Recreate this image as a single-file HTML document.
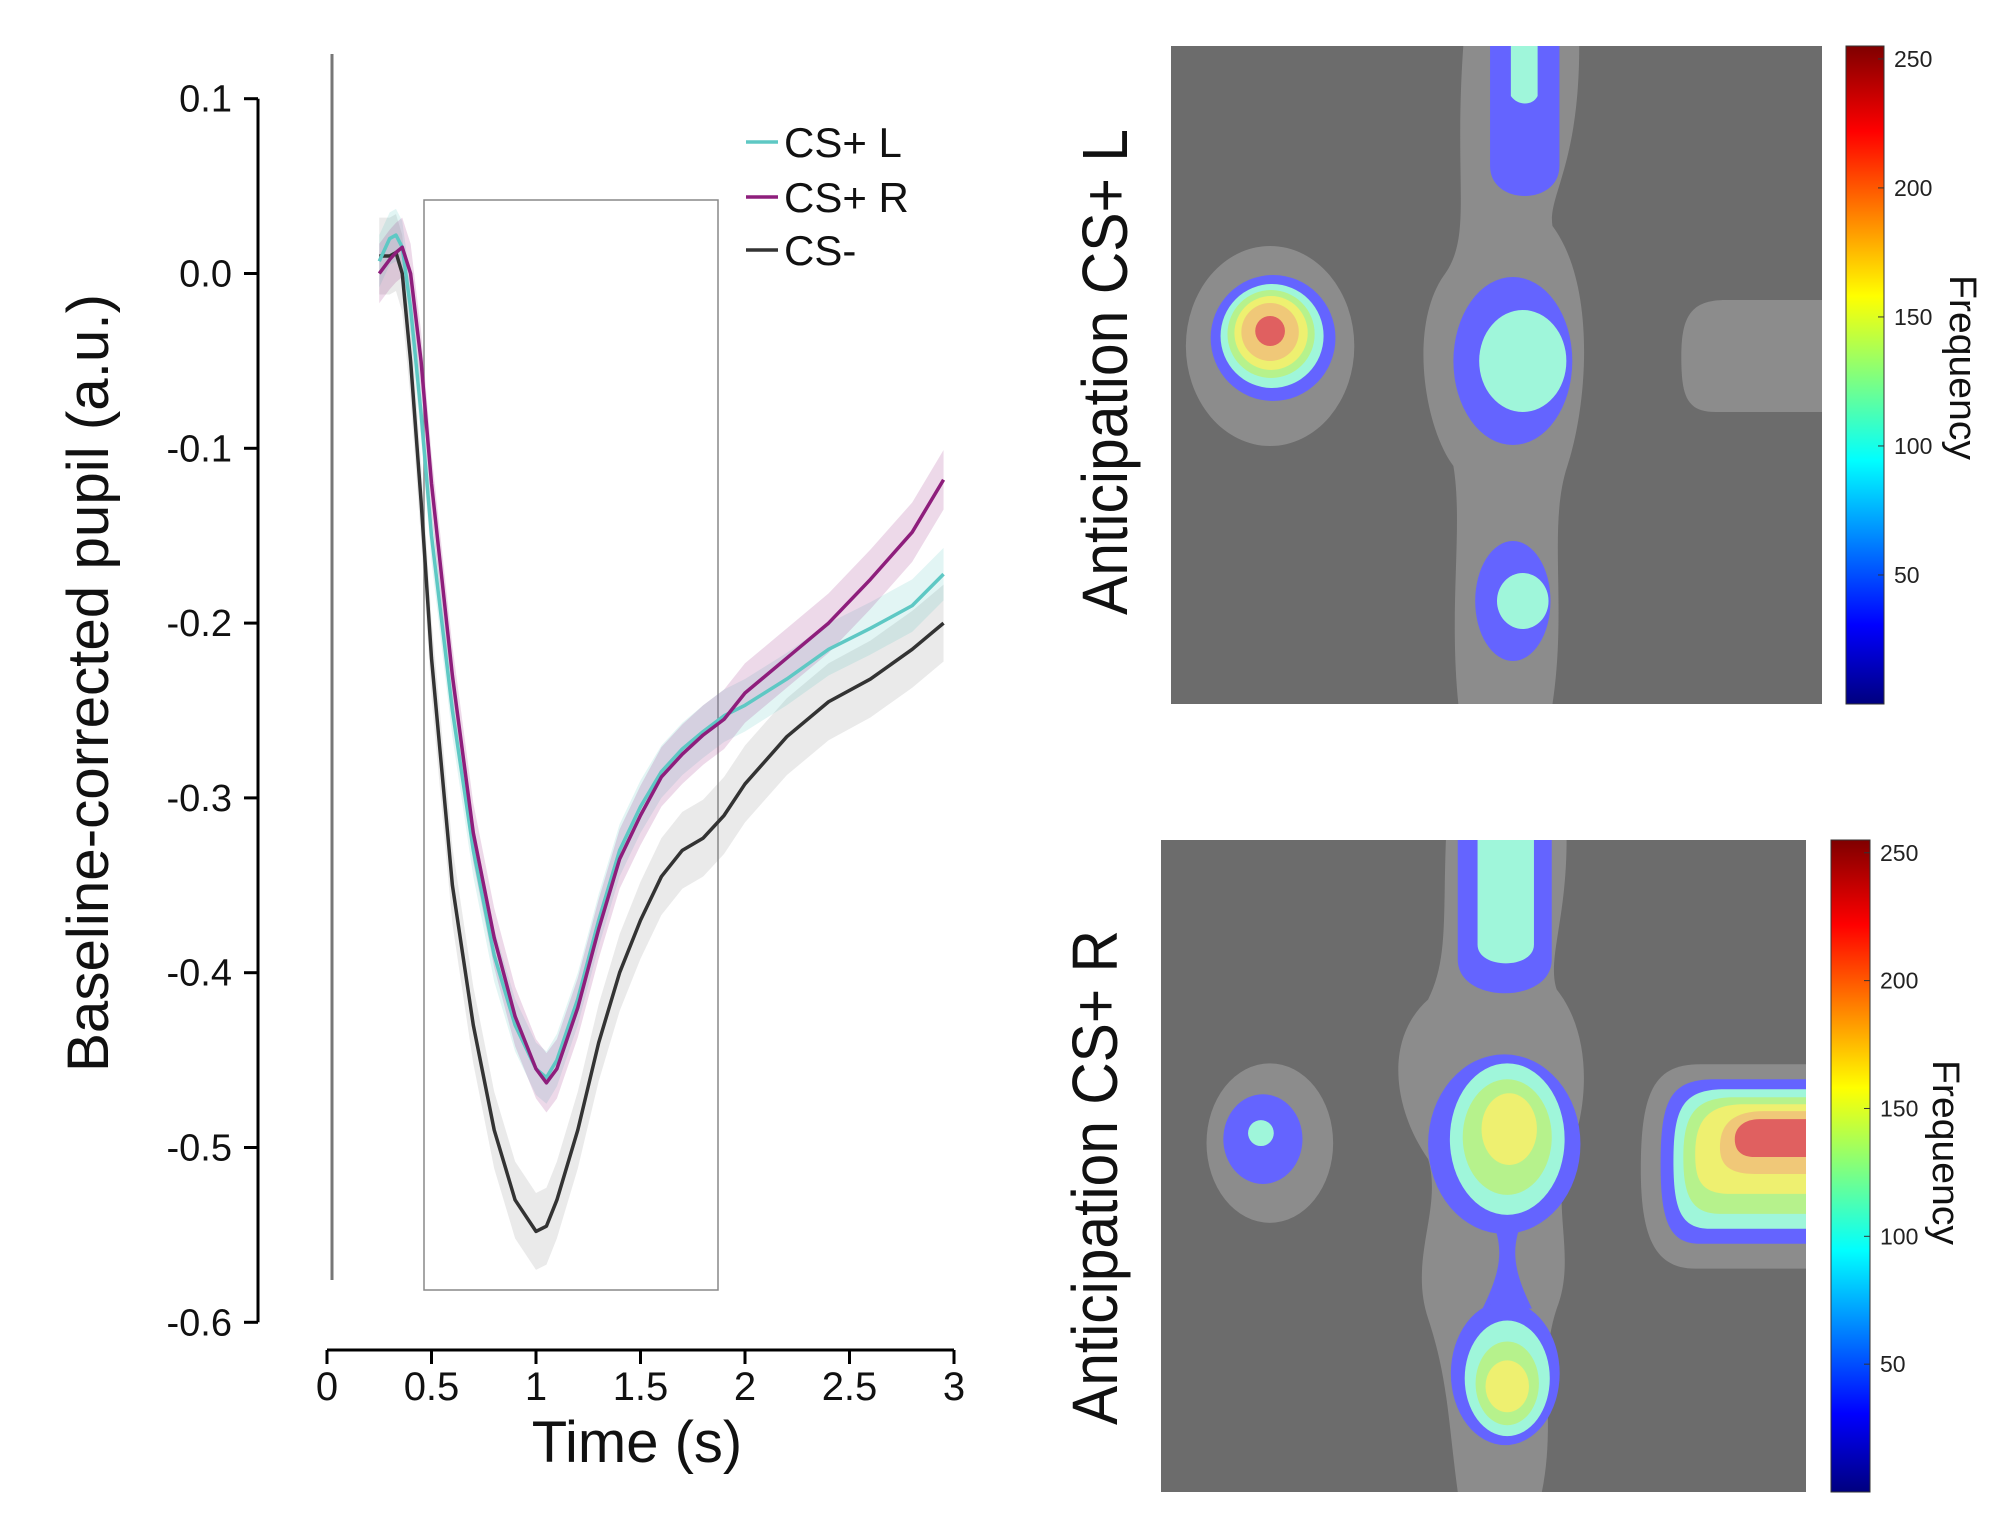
<!DOCTYPE html>
<html><head><meta charset="utf-8"><style>
body{margin:0;background:#fff}
svg{display:block;font-family:"Liberation Sans",sans-serif}
</style></head><body>
<svg id="fig" width="1994" height="1514" viewBox="0 0 1994 1514">
<defs>
<linearGradient id="jet" x1="0" y1="1" x2="0" y2="0">
<stop offset="0" stop-color="#00007f"/><stop offset="0.12" stop-color="#0000ff"/><stop offset="0.37" stop-color="#00ffff"/><stop offset="0.62" stop-color="#ffff00"/><stop offset="0.87" stop-color="#ff0000"/><stop offset="1" stop-color="#7f0000"/>
</linearGradient>
</defs>
<g id="chart"></g>

<g>
<svg x="1171" y="46" width="651" height="658" viewBox="0 0 657 658" preserveAspectRatio="none">
<rect width="657" height="658" fill="#6c6c6c"/>
<path d="M295 0 H412 C412 120 380 150 385 180 C430 240 420 360 400 420 C380 480 400 560 385 658 H290 C280 560 295 480 285 420 C255 380 240 280 275 230 C305 190 285 140 295 0Z" fill="#8c8c8c"/>
<ellipse cx="100" cy="300" rx="85" ry="100" fill="#8c8c8c"/>
<ellipse cx="103" cy="292" rx="63" ry="63" fill="#6464ff"/>
<ellipse cx="102" cy="290" rx="52" ry="52" fill="#9ff6da"/>
<ellipse cx="101" cy="288" rx="44" ry="44" fill="#b6f28c"/>
<ellipse cx="101" cy="287" rx="37" ry="37" fill="#eef070"/>
<ellipse cx="100" cy="286" rx="29" ry="29" fill="#f0c878"/>
<ellipse cx="100" cy="285" rx="15" ry="15" fill="#e06060"/>
<ellipse cx="345" cy="315" rx="60" ry="84" fill="#6464ff"/>
<ellipse cx="355" cy="315" rx="44" ry="51" fill="#9ff6da"/>
<path d="M322 0 H392 V120 C392 160 322 160 322 120Z" fill="#6464ff"/>
<path d="M343 0 H370 V50 C365 60 350 60 343 50Z" fill="#9ff6da"/>
<ellipse cx="345" cy="555" rx="38" ry="60" fill="#6464ff"/>
<ellipse cx="355" cy="555" rx="26" ry="28" fill="#9ff6da"/>
<path d="M657 254 V366 H550 C520 366 515 350 515 310 C515 270 525 254 560 254Z" fill="#8c8c8c"/>
</svg>
</g>
<rect x="1846" y="46" width="38" height="658" fill="url(#jet)" stroke="#333" stroke-width="1"/>
<g id="cb1"></g>
<text transform="translate(1950,275) rotate(90)" font-size="38" textLength="185" lengthAdjust="spacingAndGlyphs" fill="#111">Frequency</text>
<text transform="translate(1127,615) rotate(-90)" font-size="64" textLength="486" lengthAdjust="spacingAndGlyphs" fill="#111">Anticipation CS+ L</text>

<g>
<svg x="1161" y="840" width="645" height="652" viewBox="0 0 652 654" preserveAspectRatio="none">
<rect width="652" height="654" fill="#6c6c6c"/>
<path d="M288 0 H410 C410 80 390 120 400 150 C440 200 430 280 410 320 C395 370 420 420 400 470 C380 530 400 580 385 654 H300 C290 580 290 540 270 480 C250 420 285 370 270 320 C235 270 225 200 270 160 C290 120 285 80 288 0Z" fill="#8c8c8c"/>
<ellipse cx="110" cy="304" rx="64" ry="80" fill="#8c8c8c"/>
<ellipse cx="103" cy="300" rx="40" ry="45" fill="#6464ff"/>
<ellipse cx="101" cy="294" rx="13" ry="13" fill="#9ff6da"/>
<path d="M300 0 H395 V120 C395 165 300 165 300 120Z" fill="#6464ff"/>
<path d="M320 0 H377 V105 C377 130 320 130 320 105Z" fill="#9ff6da"/>
<path d="M325 360 C345 400 350 420 325 470 H375 C350 420 355 400 375 360Z" fill="#6464ff"/>
<ellipse cx="347" cy="305" rx="77" ry="90" fill="#6464ff"/>
<ellipse cx="350" cy="300" rx="58" ry="76" fill="#9ff6da"/>
<ellipse cx="350" cy="298" rx="45" ry="58" fill="#b6f28c"/>
<ellipse cx="352" cy="290" rx="28" ry="36" fill="#eef070"/>
<ellipse cx="348" cy="535" rx="55" ry="72" fill="#6464ff"/>
<ellipse cx="350" cy="540" rx="43" ry="58" fill="#9ff6da"/>
<ellipse cx="350" cy="545" rx="32" ry="42" fill="#b6f28c"/>
<ellipse cx="350" cy="548" rx="22" ry="26" fill="#eef070"/>
<path d="M652 225 V430 H540 C500 430 485 400 485 330 C485 250 500 225 545 225Z" fill="#8c8c8c"/>
<path d="M652 240 V405 H545 C515 405 505 385 505 325 C505 260 515 240 560 240Z" fill="#6464ff"/>
<path d="M652 250 V390 H555 C525 390 518 370 518 322 C518 268 528 250 570 250Z" fill="#9ff6da"/>
<path d="M652 258 V375 H565 C535 375 528 355 528 318 C528 275 540 258 580 258Z" fill="#b6f28c"/>
<path d="M652 265 V355 H575 C545 355 540 340 540 315 C540 282 552 265 590 265Z" fill="#eef070"/>
<path d="M652 272 V335 H600 C570 335 565 322 565 308 C565 285 578 272 610 272Z" fill="#f0c878"/>
<path d="M652 280 V318 H600 C585 318 580 310 580 300 C580 288 590 280 605 280Z" fill="#e06060"/>
</svg>
</g>
<rect x="1831" y="840" width="39" height="652" fill="url(#jet)" stroke="#333" stroke-width="1"/>
<g id="cb2"></g>
<text transform="translate(1933,1060) rotate(90)" font-size="38" textLength="185" lengthAdjust="spacingAndGlyphs" fill="#111">Frequency</text>
<text transform="translate(1117,1425) rotate(-90)" font-size="64" textLength="495" lengthAdjust="spacingAndGlyphs" fill="#111">Anticipation CS+ R</text>
</svg>
<script>
const times=[0.25,0.3,0.33,0.36,0.4,0.45,0.5,0.6,0.7,0.8,0.9,1.0,1.05,1.1,1.2,1.3,1.4,1.5,1.6,1.7,1.8,1.9,2.0,2.2,2.4,2.6,2.8,2.95];
const csL=[0.007,0.02,0.022,0.015,-0.02,-0.08,-0.15,-0.25,-0.33,-0.39,-0.43,-0.455,-0.46,-0.45,-0.415,-0.37,-0.33,-0.305,-0.285,-0.272,-0.262,-0.253,-0.247,-0.232,-0.215,-0.203,-0.19,-0.172];
const csR=[0.0,0.008,0.012,0.015,0.0,-0.05,-0.12,-0.23,-0.32,-0.38,-0.425,-0.455,-0.463,-0.455,-0.42,-0.375,-0.335,-0.31,-0.288,-0.275,-0.264,-0.255,-0.24,-0.22,-0.2,-0.175,-0.148,-0.118];
const csM=[0.01,0.01,0.012,0.0,-0.05,-0.13,-0.22,-0.35,-0.43,-0.49,-0.53,-0.548,-0.545,-0.53,-0.49,-0.44,-0.4,-0.37,-0.345,-0.33,-0.323,-0.31,-0.292,-0.265,-0.245,-0.232,-0.215,-0.2];
const errL=0.015, errR=0.017, errM=0.022;
const yTicks=[0.1,0.0,-0.1,-0.2,-0.3,-0.4,-0.5,-0.6];
const yTickLabels=["0.1","0.0","-0.1","-0.2","-0.3","-0.4","-0.5","-0.6"];
const xTicks=[0,0.5,1,1.5,2,2.5,3];
const xTickLabels=["0","0.5","1","1.5","2","2.5","3"];
const cbTicks=[250,200,150,100,50];
const NS="http://www.w3.org/2000/svg";
function X(t){return 327+t*209;}
function Y(v){return 273.5-v*1748;}
function mk(tag,attrs,parent,txt){const e=document.createElementNS(NS,tag);for(const k in attrs)e.setAttribute(k,attrs[k]);if(txt!==undefined)e.textContent=txt;parent.appendChild(e);return e;}
const g=document.getElementById('chart');
let e=mk('line',{x1:332,y1:54,x2:332,y2:1280,stroke:'#777','stroke-width':3},g);


e=mk('rect',{x:424,y:200,width:294,height:1090,fill:'none',stroke:'#888','stroke-width':1.5},g);


function band(vals,err,color,name){
  let d='M'+times.map((t,i)=>X(t)+' '+Y(vals[i]+err)).join(' L');
  d+=' L'+times.slice().reverse().map((t,i)=>X(t)+' '+Y(vals[vals.length-1-i]-err)).join(' L')+'Z';
  const p=mk('path',{d:d,fill:color,opacity:0.18},g);
  
  
}
function line(vals,color,name){
  const p=mk('path',{d:'M'+times.map((t,i)=>X(t)+' '+Y(vals[i])).join(' L'),fill:'none',stroke:color,'stroke-width':3.5,'stroke-linejoin':'round'},g);
  
  
}
band(csM,errM,'#888','cs-minus');band(csL,errL,'#5ec8c4','cs-plus-l');band(csR,errR,'#9a2b86','cs-plus-r');
line(csM,'#333','cs-minus');line(csL,'#5ec8c4','cs-plus-l');line(csR,'#8e1e7c','cs-plus-r');
e=mk('line',{x1:258,y1:Y(0.1),x2:258,y2:Y(-0.6),stroke:'#000','stroke-width':3},g);


yTicks.forEach((v,i)=>{
  mk('line',{x1:244,y1:Y(v),x2:258,y2:Y(v),stroke:'#000','stroke-width':3},g);
  const t=mk('text',{x:232,y:Y(v)+13,'font-size':38,'text-anchor':'end',fill:'#111'},g,yTickLabels[i]);
  
  
});
e=mk('line',{x1:X(0),y1:1350,x2:X(3),y2:1350,stroke:'#000','stroke-width':3},g);


xTicks.forEach((v,i)=>{
  mk('line',{x1:X(v),y1:1350,x2:X(v),y2:1364,stroke:'#000','stroke-width':3},g);
  const t=mk('text',{x:X(v),y:1400,'font-size':40,'text-anchor':'middle',fill:'#111'},g,xTickLabels[i]);
  
  
});
e=mk('text',{x:637,y:1462,'font-size':58,'text-anchor':'middle',fill:'#111'},g,'Time (s)');


e=mk('text',{transform:'translate(108,1072) rotate(-90)','font-size':58,textLength:778,lengthAdjust:'spacingAndGlyphs',fill:'#111'},g,'Baseline-corrected pupil (a.u.)');


[['CS+ L','#5ec8c4',142],['CS+ R','#8e1e7c',197],['CS-','#333',250]].forEach(l=>{
  const lg=mk('g',{},g);
  
  
  mk('line',{x1:746,y1:l[2],x2:778,y2:l[2],stroke:l[1],'stroke-width':3.5},lg);
  mk('text',{x:784,y:l[2]+15,'font-size':42,fill:'#111'},lg,l[0]);
});
function cb(id,x0,w,top,bot){
  const cg=document.getElementById(id);
  cbTicks.forEach(v=>{
    const yy=bot-(v/255)*(bot-top);
    mk('line',{x1:x0+w-6,y1:yy,x2:x0+w,y2:yy,stroke:'#333','stroke-width':1},cg);
    const t=mk('text',{x:x0+w+10,y:yy+8,'font-size':23,fill:'#222'},cg,String(v));
    
    
  });
}
cb('cb1',1846,38,46,704);
cb('cb2',1831,39,840,1492);
</script>
</body></html>
